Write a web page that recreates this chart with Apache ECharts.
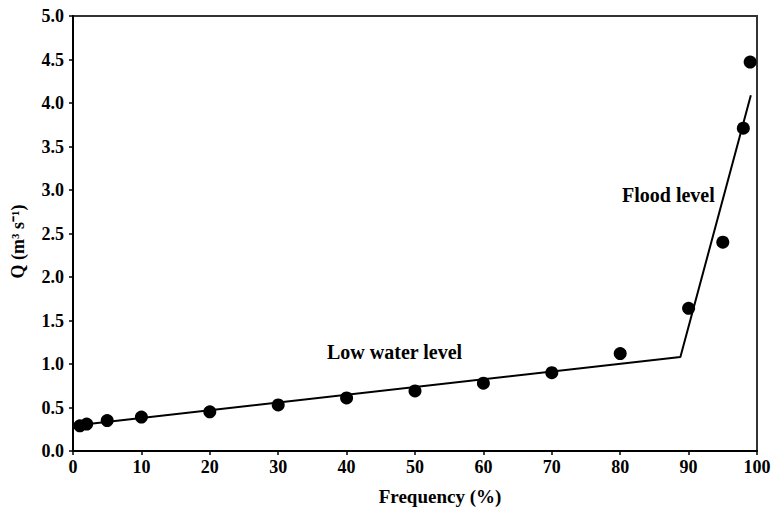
<!DOCTYPE html>
<html>
<head>
<meta charset="utf-8">
<script src="https://cdn.jsdelivr.net/npm/echarts@6/dist/echarts.min.js"></script>
<style>
html,body{margin:0;padding:0;background:#fff;}
#chart{width:776px;height:509px;}
</style>
</head>
<body>
<div id="chart"></div>
<script>
var frequency = [1, 2, 5, 10, 20, 30, 40, 50, 60, 70, 80, 90, 95, 98, 99];
var discharge = [0.29, 0.31, 0.35, 0.39, 0.45, 0.53, 0.61, 0.69, 0.78, 0.90, 1.12, 1.64, 2.40, 3.71, 4.47];
var fitX = [0, 88.8, 99.1];
var fitY = [0.29, 1.08, 4.09];
var xTicks = [0, 10, 20, 30, 40, 50, 60, 70, 80, 90, 100];
var yTicks = [0, 0.5, 1, 1.5, 2, 2.5, 3, 3.5, 4, 4.5, 5];
var xTitle = 'Frequency (%)';
var yTitle = 'Q (m³ s⁻¹)';
var lowLabel = 'Low water level';
var floodLabel = 'Flood level';

var FONT = '"Liberation Serif", "Times New Roman", serif';
var chart = echarts.init(document.getElementById('chart'), null, {renderer: 'svg'});
chart.setOption({
  animation: false,
  backgroundColor: '#fff',
  grid: {left: 73, right: 19, top: 16, bottom: 58, containLabel: false, outerBoundsMode: 'none',
    show: true, borderColor: '#333', borderWidth: 2, backgroundColor: 'transparent'},
  xAxis: {
    type: 'value', min: xTicks[0], max: xTicks[xTicks.length - 1], interval: 10,
    name: xTitle, nameLocation: 'middle', nameGap: 36,
    nameTextStyle: {fontFamily: FONT, fontWeight: 'bold', fontSize: 19, color: '#000', padding: [0, 0, 0, 50]},
    axisLine: {show: true, onZero: false, lineStyle: {color: '#000', width: 2}},
    axisTick: {show: true, inside: false, length: 4, lineStyle: {color: '#000', width: 1.5}},
    axisLabel: {fontFamily: FONT, fontWeight: 'bold', fontSize: 18, color: '#000', margin: 7,
      formatter: function (v) { return xTicks.indexOf(v) >= 0 ? String(v) : ''; }},
    splitLine: {show: false}
  },
  yAxis: {
    type: 'value', min: yTicks[0], max: yTicks[yTicks.length - 1], interval: 0.5,
    name: yTitle, nameLocation: 'middle', nameGap: 46, nameRotate: 90,
    nameTextStyle: {fontFamily: FONT, fontWeight: 'bold', fontSize: 18, color: '#000', padding: [0, 16, 0, 0]},
    axisLine: {show: true, onZero: false, lineStyle: {color: '#000', width: 2}},
    axisTick: {show: true, inside: false, length: 4, lineStyle: {color: '#000', width: 1.5}},
    axisLabel: {fontFamily: FONT, fontWeight: 'bold', fontSize: 18, color: '#000', margin: 9,
      formatter: function (v) { return v.toFixed(1); }},
    splitLine: {show: false}
  },
  series: [
    {
      type: 'line', name: 'fit',
      data: fitX.map(function (x, i) { return [x, fitY[i]]; }),
      showSymbol: false, symbol: 'none',
      lineStyle: {color: '#000', width: 2},
      z: 2
    },
    {
      type: 'scatter', name: 'observed',
      data: frequency.map(function (x, i) { return [x, discharge[i]]; }),
      symbol: 'circle', symbolSize: 13,
      itemStyle: {color: '#000', opacity: 1},
      z: 3
    }
  ],
  graphic: [
    {type: 'text', left: 327, top: 342, style: {text: lowLabel, fontFamily: FONT, fontWeight: 'bold', fontSize: 20, fill: '#000'}},
    {type: 'text', left: 622, top: 185, style: {text: floodLabel, fontFamily: FONT, fontWeight: 'bold', fontSize: 20, fill: '#000'}}
  ]
});
</script>
</body>
</html>
